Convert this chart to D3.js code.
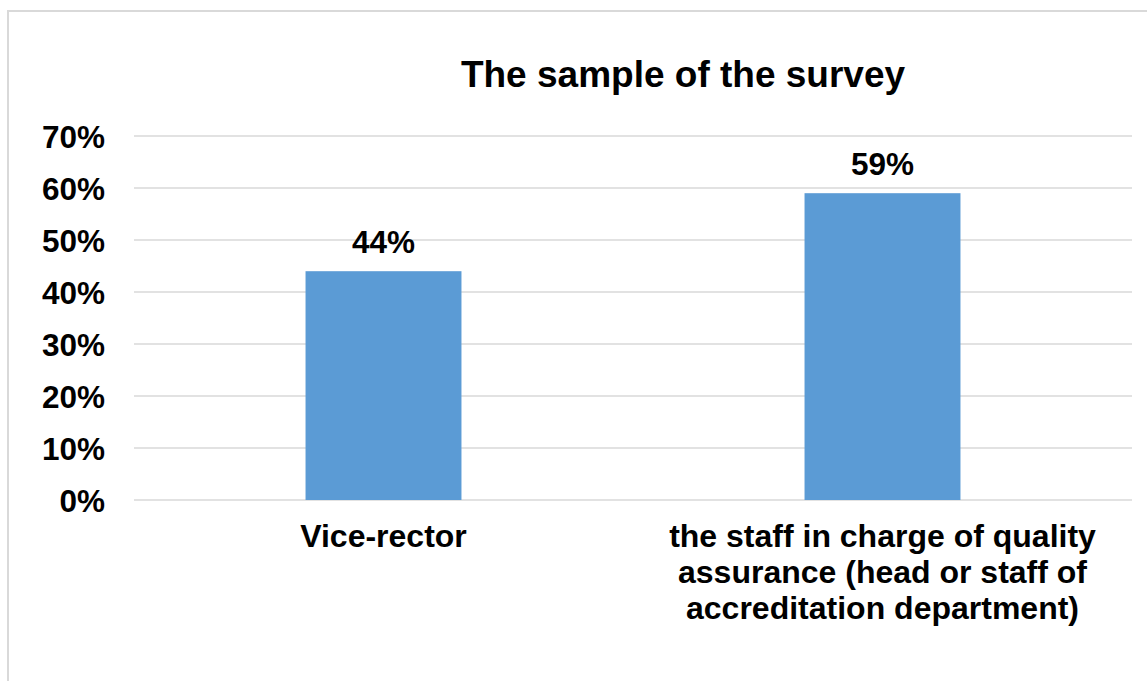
<!DOCTYPE html>
<html>
<head>
<meta charset="utf-8">
<script src="https://cdn.jsdelivr.net/npm/d3@7"></script>
<style>
  html, body { margin: 0; padding: 0; background: #ffffff; }
  svg { display: block; font-family: "Liberation Sans", Arial, sans-serif; }
</style>
</head>
<body>
<svg id="chart" width="1147" height="681"></svg>
<script>
const title = "The sample of the survey";
const categories = ["Vice-rector", "the staff in charge of quality assurance (head or staff of accreditation department)"];
const categoryLines = [["Vice-rector"], ["the staff in charge of quality", "assurance (head or staff of", "accreditation department)"]];
const values = [0.44, 0.59];
const valueLabels = ["44%", "59%"];
const tickValues = [0, 0.1, 0.2, 0.3, 0.4, 0.5, 0.6, 0.7];
const tickLabels = ["0%", "10%", "20%", "30%", "40%", "50%", "60%", "70%"];

const svg = d3.select("#chart");

// outer chart border
svg.append("rect")
  .attr("x", 8).attr("y", 11)
  .attr("width", 1200).attr("height", 720)
  .attr("fill", "#ffffff")
  .attr("stroke", "#d9d9d9")
  .attr("stroke-width", 2);

const plot = { left: 134, right: 1132, top: 136, bottom: 500 };

const x = d3.scaleBand()
  .domain(categories)
  .range([plot.left, plot.right])
  .paddingInner(0.6875)
  .paddingOuter(0.34375);

const y = d3.scaleLinear()
  .domain([0, 0.7])
  .range([plot.bottom, plot.top]);

// gridlines
svg.append("g")
  .selectAll("line")
  .data(tickValues)
  .join("line")
  .attr("x1", plot.left).attr("x2", plot.right)
  .attr("y1", d => y(d)).attr("y2", d => y(d))
  .attr("stroke", "#d9d9d9")
  .attr("stroke-width", 1.5);

// y axis labels
const yAxis = d3.axisLeft(y)
  .tickValues(tickValues)
  .tickFormat((d, i) => tickLabels[i])
  .tickSize(0)
  .tickPadding(0);
const yg = svg.append("g")
  .attr("transform", `translate(105,0)`)
  .call(yAxis);
yg.select(".domain").remove();
yg.selectAll("text")
  .attr("font-family", "Liberation Sans, Arial, sans-serif")
  .attr("font-size", 31.5)
  .attr("font-weight", "bold")
  .attr("fill", "#000")
  .attr("dy", "0.35em");

// bars
svg.append("g")
  .selectAll("rect")
  .data(values)
  .join("rect")
  .attr("x", (d, i) => x(categories[i]))
  .attr("width", x.bandwidth())
  .attr("y", d => y(d))
  .attr("height", d => y(0) - y(d))
  .attr("fill", "#5b9bd5");

// data labels
svg.append("g")
  .selectAll("text")
  .data(values)
  .join("text")
  .attr("x", (d, i) => x(categories[i]) + x.bandwidth() / 2)
  .attr("y", d => y(d) - 18)
  .attr("text-anchor", "middle")
  .attr("font-size", 31.5)
  .attr("font-weight", "bold")
  .attr("fill", "#000")
  .text((d, i) => valueLabels[i]);

// category labels
const cat = svg.append("g")
  .selectAll("text")
  .data(categories)
  .join("text")
  .attr("x", d => x(d) + x.bandwidth() / 2)
  .attr("y", 547)
  .attr("text-anchor", "middle")
  .attr("font-size", 32)
  .attr("font-weight", "bold")
  .attr("fill", "#000");
cat.selectAll("tspan")
  .data((d, i) => categoryLines[i])
  .join("tspan")
  .attr("x", function() { return this.parentNode.getAttribute("x"); })
  .attr("dy", (d, i) => i === 0 ? 0 : 36)
  .text(d => d);

// title
svg.append("text")
  .attr("x", 683)
  .attr("y", 87)
  .attr("text-anchor", "middle")
  .attr("font-size", 37)
  .attr("font-weight", "bold")
  .attr("fill", "#000")
  .text(title);
</script>
</body>
</html>
